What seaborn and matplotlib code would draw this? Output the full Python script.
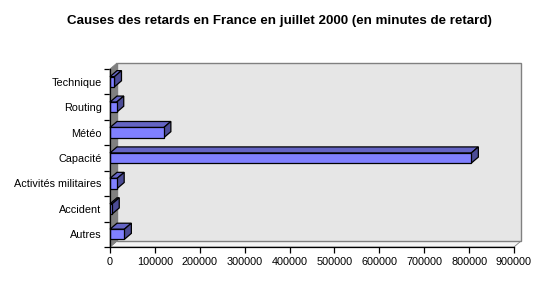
import matplotlib
matplotlib.use("Agg")
import matplotlib.pyplot as plt
import seaborn as sns
import pandas as pd
import numpy as np
from matplotlib.patches import Polygon
from matplotlib.transforms import IdentityTransform
from matplotlib.ticker import FixedLocator

categories = ["Technique", "Routing", "Météo", "Capacité",
              "Activités militaires", "Accident", "Autres"]
minutes = [10000, 15000, 120000, 805000, 16000, 5000, 32000]
xticks = [0, 100000, 200000, 300000, 400000, 500000, 600000, 700000, 800000, 900000]
title = "Causes des retards en France en juillet 2000 (en minutes de retard)"

df = pd.DataFrame({"cause": categories, "minutes": minutes})

sns.set_theme(style="white")
plt.rcParams["font.family"] = ["Liberation Sans", "DejaVu Sans"]

W, H = 553, 296
DPI = 100
fig = plt.figure(figsize=(W / DPI, H / DPI), dpi=DPI)
fig.patch.set_facecolor("white")

x0, x1, ytop, ybot = 110, 514, 69, 247
ax = fig.add_axes([x0 / W, 1 - ybot / H, (x1 - x0) / W, (ybot - ytop) / H])
ax.patch.set_alpha(0)

FRONT = "#8080ff"
TOP = "#6464c4"
SIDE = "#4c4c96"
DX, DY = 7, 6  # depth offset in pixels (display coords, y up)

sns.barplot(data=df, x="minutes", y="cause", orient="h", order=categories,
            color=FRONT, saturation=1, width=0.4, edgecolor="black",
            linewidth=0.9, ax=ax, zorder=5)
bar_patches = list(ax.patches)
for p in bar_patches:
    p.set_facecolor(FRONT)
    p.set_zorder(5)

ax.set_xlim(0, 900000)
ax.set_ylim(6.5, -0.5)
ax.set_xlabel("")
ax.set_ylabel("")

# ticks
ax.xaxis.set_major_locator(FixedLocator(xticks))
ax.set_xticklabels([str(v) for v in xticks])
ax.yaxis.set_minor_locator(FixedLocator(np.arange(-0.5, 7.0, 1.0)))
ax.tick_params(axis="y", which="major", length=0, pad=6, labelsize=7.8, colors="black")
ax.tick_params(axis="y", which="minor", length=4, width=0.9, color="black", left=True)
ax.tick_params(axis="x", which="major", length=4, width=0.9, color="black",
               bottom=True, pad=3, labelsize=7.8, labelcolor="black")
for s in ["top", "right"]:
    ax.spines[s].set_visible(False)
for s in ["left", "bottom"]:
    ax.spines[s].set_visible(True)
    ax.spines[s].set_color("black")
    ax.spines[s].set_linewidth(0.9)
    ax.spines[s].set_zorder(6)

ident = IdentityTransform()
fx0, fy0 = ax.transData.transform((0, 6.5))
fx1, fy1 = ax.transData.transform((900000, -0.5))


def add_poly(pts, fc, ec, lw, z):
    poly = Polygon(pts, closed=True, facecolor=fc, edgecolor=ec, linewidth=lw,
                   transform=ident, zorder=z, clip_on=False)
    ax.add_patch(poly)


# floor
add_poly([(fx0, fy0), (fx1, fy0), (fx1 + DX, fy0 + DY), (fx0 + DX, fy0 + DY)],
         "#f4f4f4", "#808080", 0.6, 0.4)
# back wall
add_poly([(fx0 + DX, fy0 + DY), (fx1 + DX, fy0 + DY), (fx1 + DX, fy1 + DY), (fx0 + DX, fy1 + DY)],
         "#e6e6e6", "#808080", 1.0, 0.5)
# left wall
add_poly([(fx0, fy0), (fx0 + DX, fy0 + DY), (fx0 + DX, fy1 + DY), (fx0, fy1)],
         "#808080", "#808080", 0.6, 1)

# 3D faces of bars, derived from the seaborn bar patches
for p in bar_patches:
    bx, by = p.get_x(), p.get_y()
    bw, bh = p.get_width(), p.get_height()
    (lx, ya) = ax.transData.transform((bx, by))
    (rx, yb_) = ax.transData.transform((bx + bw, by + bh))
    yt = max(ya, yb_)
    yb = min(ya, yb_)
    add_poly([(lx, yt), (rx, yt), (rx + DX, yt + DY), (lx + DX, yt + DY)],
             TOP, "black", 0.9, 4)
    add_poly([(rx, yb), (rx + DX, yb + DY), (rx + DX, yt + DY), (rx, yt)],
             SIDE, "black", 0.9, 4)

fig.text(279 / W, 1 - 21 / H, title, ha="center", va="center",
         fontsize=9.6, fontweight="bold", color="black")

fig.savefig("out.png", dpi=DPI, facecolor="white")
